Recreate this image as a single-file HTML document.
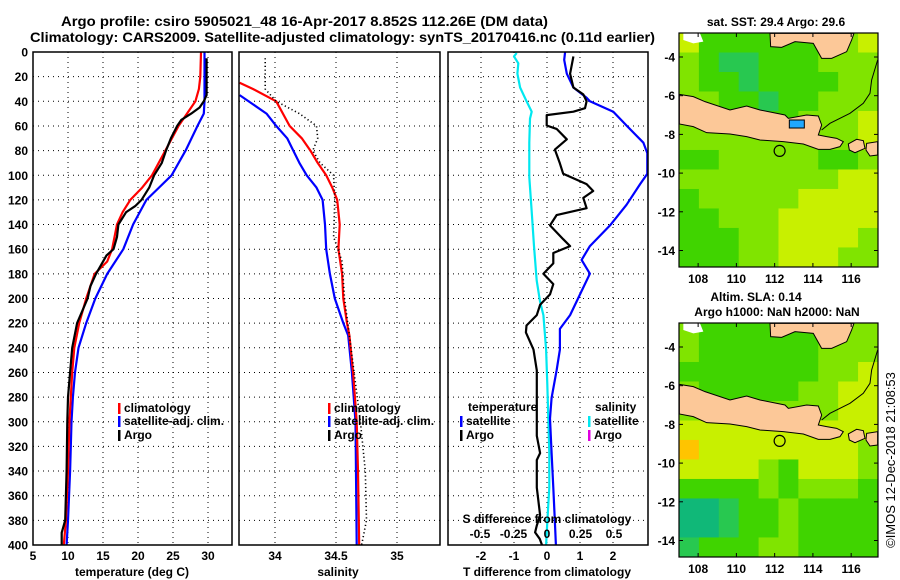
<!DOCTYPE html>
<html><head><meta charset="utf-8"><style>
html,body{margin:0;padding:0;background:#fff}
svg{display:block;font-family:"Liberation Sans",sans-serif}
.t{font-weight:bold;font-size:12px;fill:#000}
</style></head><body>
<svg id="chart" width="900" height="580" viewBox="0 0 900 580" xmlns="http://www.w3.org/2000/svg">
<defs>
<clipPath id="c1"><rect x="33" y="52" width="199" height="493"/></clipPath>
<clipPath id="c2"><rect x="239" y="52" width="201" height="493"/></clipPath>
<clipPath id="c3"><rect x="448" y="52" width="200" height="493"/></clipPath>
<clipPath id="m1"><rect x="679" y="33" width="199" height="234"/></clipPath>
<clipPath id="m2"><rect x="679" y="323" width="199" height="234"/></clipPath>
</defs>
<text x="61" y="26" class="t" style="font-size:14px" textLength="487" lengthAdjust="spacingAndGlyphs">Argo profile: csiro 5905021_48 16-Apr-2017 8.852S 112.26E (DM data)</text>
<text x="30" y="42" class="t" style="font-size:14px" textLength="625" lengthAdjust="spacingAndGlyphs">Climatology: CARS2009. Satellite-adjusted climatology: synTS_20170416.nc (0.11d earlier)</text>
<g id="grids"></g>
<g id="marks"></g>
<g id="frames"></g>
<g id="labels"></g>
<g id="maps"></g>
<text transform="translate(895,460) rotate(-90)" text-anchor="middle" style="font-size:13px">©IMOS 12-Dec-2018 21:08:53</text>
</svg>
<script>
// ---- data ----
const depthTicks=[0,20,40,60,80,100,120,140,160,180,200,220,240,260,280,300,320,340,360,380,400];
const tTicks=[5,10,15,20,25,30];
const sTicks=[34,34.5,35];
const sTickLabels=["34","34.5","35"];
const dTTicks=[-2,-1,0,1,2];
const dSTicks=[-0.5,-0.25,0,0.25,0.5];
const dSTickLabels=["-0.5","-0.25","0","0.25","0.5"];
const climTDepth=[0,20,30,40,50,60,80,100,110,120,130,140,160,170,180,200,220,240,260,280,300,340,380,400];
const climT=[29.0,28.9,28.7,28.2,27.0,25.8,23.9,22.0,20.6,18.9,17.8,17.0,16.3,15.6,13.8,12.6,11.6,10.9,10.6,10.4,10.2,10.0,9.7,9.4];
const argoTDepth=[5,20,35,40,45,50,55,60,70,80,90,100,110,120,125,130,140,150,160,165,180,190,200,220,240,260,280,300,340,380,390,400];
const argoT=[29.8,29.8,29.8,29.4,28.8,27.6,26.2,25.6,24.7,24.0,23.4,22.3,21.6,20.5,19.6,18.3,17.2,17.0,16.5,15.5,14.0,13.2,12.8,11.3,10.6,10.3,10.0,9.9,9.8,9.6,9.1,9.1];
const satTDepth=[0,40,50,60,80,100,110,120,140,160,180,200,220,240,260,280,300,340,380,400];
const satT=[29.5,29.5,29.4,28.5,26.8,24.8,23.0,21.2,19.3,17.9,15.6,13.9,12.6,11.5,11.0,10.7,10.5,10.3,10.0,9.8];
const climSDepth=[25,30,40,60,70,80,90,100,110,120,140,160,180,200,220,230,260,300,340,400];
const climS=[33.71,33.82,34.01,34.12,34.22,34.29,34.35,34.42,34.47,34.51,34.53,34.52,34.55,34.56,34.59,34.61,34.64,34.67,34.68,34.69];
const satSDepth=[35,50,60,70,80,90,100,110,120,140,160,180,200,220,230,260,300,400];
const satS=[33.71,33.93,34.01,34.10,34.15,34.20,34.26,34.34,34.39,34.41,34.42,34.45,34.49,34.56,34.60,34.63,34.66,34.67];
const argoSDepth=[5,30,40,50,60,70,80,90,100,120,150,170,200,230,300,340,380,400];
const argoS=[33.92,33.92,34.01,34.20,34.34,34.35,34.31,34.37,34.48,34.49,34.48,34.55,34.57,34.61,34.70,34.74,34.75,34.71];
const dTArgoDepth=[3.6,17.6,28.8,34.4,40.0,45.6,48.4,51.2,59.6,62.4,70.8,79.2,90.4,98.8,107.2,112.8,118.4,126.7,132.3,140.7,151.9,157.5,163.1,171.5,179.9,188.3,196.7,205.1,213.5,221.9,227.5,241.5,258.3,280.6,311.4,325.4,331.0,353.4,375.8,384.2,389.8,395,400];
const dTArgo=[0.80,0.70,0.80,1.10,1.20,1.15,0.80,-0.01,-0.01,0.29,0.60,0.24,0.39,0.49,1.20,1.40,1.10,1.20,0.29,0.09,0.49,0.70,0.19,0.19,-0.11,0.19,0.09,-0.21,-0.31,-0.62,-0.64,-0.41,-0.31,-0.31,-0.31,-0.21,-0.31,-0.31,-0.21,-0.31,-0.36,-0.22,-0.15];
const dTSatDepth=[0,6.4,17.6,28.8,37.2,40.0,48.4,59.6,73.6,82.0,98.8,107.2,124.0,140.7,157.5,168.7,179.9,196.7,213.5,224.7,241.5,258.3,280.6,297.4,325.4,353.4,381.4,400];
const dTSat=[0.55,0.52,0.60,0.80,1.20,1.30,2.01,2.41,2.92,3.04,3.04,2.82,2.41,1.91,1.30,1.05,1.30,1.00,0.70,0.39,0.39,0.29,0.14,0.09,0.14,0.19,0.24,0.27];
const dSSatDepth=[0.8,3.6,9.2,17.6,28.8,40.0,48.4,54.0,73.6,101.6,129.5,157.5,185.5,202.3,213.5,241.5,269.4,297.4,325.4,353.4,381.4,400];
const dSSat=[-0.226,-0.246,-0.214,-0.221,-0.201,-0.152,-0.114,-0.127,-0.132,-0.132,-0.114,-0.097,-0.077,-0.052,-0.027,-0.007,0.002,0.010,0.017,0.017,0.002,-0.007];
const lonTicks=[108,110,112,114,116];
const latTicks=[-4,-6,-8,-10,-12,-14];
const argoLon=112.26, argoLat=-8.852;
const sstGrid=[
[5,3,3,3,3,3,3,3,4,5],
[4,3,2,2,3,3,3,4,4,4],
[4,3,3,2,3,3,3,3,4,4],
[4,4,3,3,2,3,3,4,4,4],
[4,4,4,3,3,3,4,4,4,5],
[4,4,4,4,4,4,4,4,4,5],
[3,3,4,4,4,4,4,3,3,4],
[4,4,4,4,4,4,4,4,5,5],
[3,4,4,4,4,4,5,5,5,5],
[3,3,4,4,4,5,5,5,5,5],
[3,3,3,4,4,5,5,5,5,4],
[3,3,3,4,4,5,5,5,4,4]];
const slaGrid=[
[4,3,3,3,3,3,3,4,4,4],
[4,3,3,3,3,3,3,4,4,4],
[3,3,3,3,3,3,3,4,4,5],
[4,3,3,3,3,3,4,4,5,5],
[4,4,4,4,4,4,4,4,5,5],
[5,5,5,5,5,5,5,5,5,5],
[6,5,5,5,5,5,5,5,5,4],
[5,5,5,5,4,3,5,5,5,4],
[3,3,3,3,4,3,4,4,4,3],
[1,1,2,3,3,4,3,3,3,3],
[1,1,2,3,3,4,3,3,3,3],
[2,3,3,3,4,4,3,3,3,3]];
const palette=['#2090ff','#10b878','#28c850','#40d400','#80e400','#c8f000','#ffc400'];

// ---- scales ----
const Y=d=>52+d*1.2325;
const XT=t=>33+(t-5)*7;
const XS=s=>275+(s-34)*122;
const XdT=v=>547+v*33;
const XdS=v=>547+v*134;
const LON=l=>679+(l-107)*19.13;
const LAT=(l,off)=>33+off+(-2.76-l)*19.35;

const NS='http://www.w3.org/2000/svg';
function mk(tag,attrs,parent){const e=document.createElementNS(NS,tag);for(const k in attrs)e.setAttribute(k,attrs[k]);parent.appendChild(e);return e;}
const G=document.getElementById('grids'),M=document.getElementById('marks'),F=document.getElementById('frames'),L=document.getElementById('labels'),MP=document.getElementById('maps');

const panels=[[33,232,'temperature'],[239,440,'salinity'],[448,648,'difference']];
panels.forEach(p=>{
 depthTicks.slice(1,-1).forEach(d=>{
  const l=mk('line',{x1:p[0],x2:p[1],y1:Y(d),y2:Y(d),stroke:'#000','stroke-width':1,'stroke-dasharray':'1,4'},G);
  
  
 });
});
function vgrid(ticks,fx,x0,x1){ticks.forEach(t=>{const x=fx(t);if(x<=x0+1||x>=x1-1)return;
 const l=mk('line',{x1:x,x2:x,y1:52,y2:545,stroke:'#000','stroke-width':1,'stroke-dasharray':'1,4'},G);
 
 });}
vgrid(tTicks,XT,33,232);vgrid(sTicks,XS,239,440);vgrid(dTTicks,XdT,448,648);

function line(depths,vals,fx,color,clip,name,dash,w){
 const pts=depths.map((d,i)=>fx(vals[i]).toFixed(1)+','+Y(d).toFixed(1)).join(' ');
 const a={points:pts,fill:'none',stroke:color,'stroke-width':w||2.2,'clip-path':'url(#'+clip+')','stroke-linejoin':'round'};
 if(dash)a['stroke-dasharray']=dash;
 const e=mk('polyline',a,M);
 
 
}
line(satTDepth,satT,XT,'#0000ff','c1','satellite-temperature-line');
line(climTDepth,climT,XT,'#ff0000','c1','climatology-temperature-line');
line(argoTDepth,argoT,XT,'#000','c1','argo-temperature-line');
line(satSDepth,satS,XS,'#0000ff','c2','satellite-salinity-line');
line(climSDepth,climS,XS,'#ff0000','c2','climatology-salinity-line');
line(argoSDepth,argoS,XS,'#000','c2','argo-salinity-line','1.2,2.6',1.6);
line(dSSatDepth,dSSat,XdS,'#00e8f0','c3','salinity-diff-satellite-line');
line(dTSatDepth,dTSat,XdT,'#0000ff','c3','temperature-diff-satellite-line');
line(dTArgoDepth,dTArgo,XdT,'#000','c3','temperature-diff-argo-line');

panels.forEach(p=>{const r=mk('rect',{x:p[0],y:52,width:p[1]-p[0],height:493,fill:'none',stroke:'#000','stroke-width':1.5},F);
 
 });

function txt(x,y,s,anchor,name,extra){const e=mk('text',Object.assign({x:x,y:y,'text-anchor':anchor||'start',class:'t'},extra||{}),L);e.textContent=s;
 
 return e;}
depthTicks.forEach(d=>txt(28,Y(d)+4.5,String(d),'end','depth-tick-label'));
tTicks.forEach(t=>txt(XT(t),560,String(t),'middle','temperature-tick-label'));
sTicks.forEach((t,i)=>txt(XS(t),560,sTickLabels[i],'middle','salinity-tick-label'));
dTTicks.forEach(t=>txt(XdT(t),560,String(t),'middle','t-diff-tick-label'));
dSTicks.forEach((t,i)=>txt(XdS(t),538,dSTickLabels[i],'middle','s-diff-tick-label'));
txt(132,576,'temperature (deg C)','middle','x-axis-title-temperature');
txt(338,576,'salinity','middle','x-axis-title-salinity');
txt(547,576,'T difference from climatology','middle','x-axis-title-t-diff');
txt(547,523,'S difference from climatology','middle','s-axis-title');

function leg(x,y,color,label,name){const r=mk('rect',{x:x,y:y-9,width:2.5,height:11,fill:color},L);
 
 
 txt(x+6,y,label,'start',name);}
leg(118,412,'#ff0000','climatology','legend-climatology');
leg(118,425,'#0000ff','satellite-adj. clim.','legend-satellite');
leg(118,439,'#000','Argo','legend-argo');
leg(328,412,'#ff0000','climatology','legend-s-climatology');
leg(328,425,'#0000ff','satellite-adj. clim.','legend-s-satellite');
leg(328,439,'#000','Argo','legend-s-argo');
txt(468,411,'temperature','start','legend-temperature-header');
leg(460,425,'#0000ff','satellite','legend-t-satellite');
leg(460,439,'#000','Argo','legend-t-argo');
txt(595,411,'salinity','start','legend-salinity-header');
leg(588,425,'#00e8f0','satellite','legend-s-diff-satellite');
leg(588,439,'#e000e0','Argo','legend-s-diff-argo');

// maps
const java='M88,283 L130,290 L165,305 L240,330 L290,318 L330,330 L405,345 L415,355 L470,345 L505,348 L515,375 L505,405 L530,410 L560,415 L580,425 L570,440 L540,448 L505,448 L460,432 L400,425 L330,420 L290,410 L240,402 L170,398 L130,380 L88,372 Z';
const bali='M595,432 L620,418 L640,422 L645,445 L615,458 L598,450 Z';
const lombok='M650,430 L683,425 L683,465 L660,468 L648,450 Z';
const borneo='M360,100 L362,140 L395,142 L435,125 L490,130 L515,175 L545,175 L590,155 L605,120 L612,100 Z';
function drawMap(grid,off,clip,name,title1){
 const g=mk('g',{'clip-path':'url(#'+clip+')'},MP);
 
 
 const rows=grid.length,cols=grid[0].length,dl=(117.4-107)/cols,da=(14.85-2.76)/rows;
 grid.forEach((row,r)=>row.forEach((v,c)=>{
  const lon0=107+c*dl,lat0=-2.76-r*da;
  const x=LON(lon0),y=LAT(lat0,off);
  const e=mk('rect',{x:x,y:y,width:LON(lon0+dl)-x+0.5,height:LAT(lat0-da,off)-y+0.5,fill:palette[v]},g);
  
  
 }));
 const lg=mk('g',{transform:'translate(650,'+off+') scale(0.3333)'},g);
 [java,bali,lombok,borneo].forEach(d=>{const p=mk('path',{d:d,fill:'#fcc898',stroke:'#000','stroke-width':1,'vector-effect':'non-scaling-stroke'},lg);
  
  });
 if(off===0){mk('rect',{x:418,y:360,width:45,height:24,fill:'#20a8ff',stroke:'#000','stroke-width':1,'vector-effect':'non-scaling-stroke'},lg);}
 mk('polyline',{points:'515,390 540,370 600,340 640,310 660,280 665,240 683,180',fill:'none',stroke:'#000','stroke-width':1,'vector-effect':'non-scaling-stroke'},lg);
 mk('path',{d:'M100,100 L150,100 L160,125 L130,130 L100,120 Z',fill:'#fff'},lg);
 const c=mk('circle',{cx:LON(argoLon),cy:LAT(argoLat,off),r:5.5,fill:'none',stroke:'#000','stroke-width':1.2},MP);
 
 
 const fr=mk('rect',{x:679,y:33+off,width:199,height:234,fill:'none',stroke:'#000','stroke-width':1.2},MP);
 
 
 lonTicks.forEach(l=>{const x=LON(l);
  mk('line',{x1:x,x2:x,y1:33+off,y2:37+off,stroke:'#000'},MP);
  mk('line',{x1:x,x2:x,y1:263+off,y2:267+off,stroke:'#000'},MP);
  const t=mk('text',{x:x,y:283+off,'text-anchor':'middle',class:'t'},MP);t.textContent=String(l);
  
  });
 latTicks.forEach(l=>{const y=LAT(l,off);
  mk('line',{x1:679,x2:683,y1:y,y2:y,stroke:'#000'},MP);
  mk('line',{x1:874,x2:878,y1:y,y2:y,stroke:'#000'},MP);
  const t=mk('text',{x:675,y:y+4.5,'text-anchor':'end',class:'t'},MP);t.textContent=String(l);
  
  });
 title1.forEach(tt=>{const t=mk('text',{x:tt[0],y:tt[1],'text-anchor':'middle',class:'t'},MP);t.textContent=tt[2];
  
  });
}
drawMap(sstGrid,0,'m1','sst-map',[[776,26,'sat. SST: 29.4 Argo: 29.6']]);
drawMap(slaGrid,290,'m2','sla-map',[[756,301,'Altim. SLA: 0.14'],[777,316,'Argo h1000: NaN h2000: NaN']]);
</script>
</body></html>
